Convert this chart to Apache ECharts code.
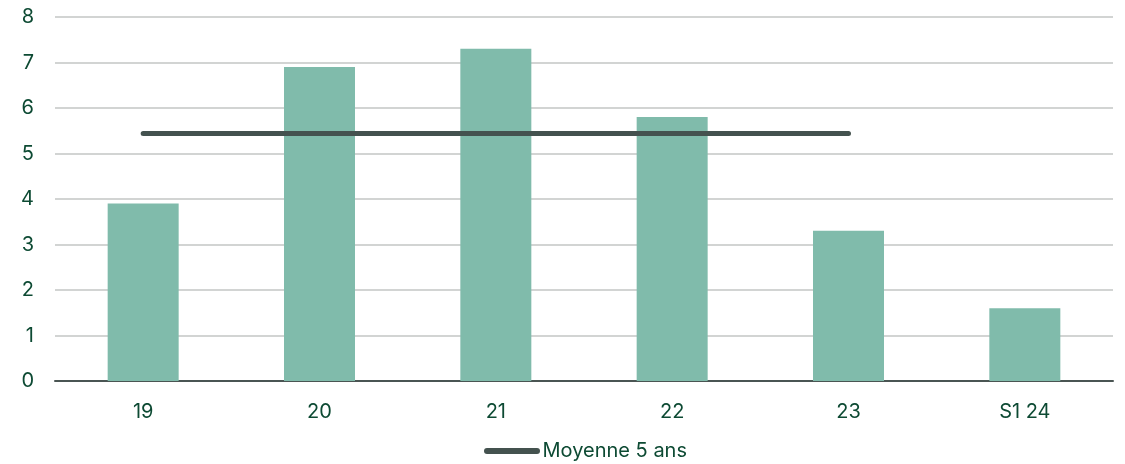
<!DOCTYPE html>
<html><head><meta charset="utf-8">
<script src="https://cdn.jsdelivr.net/npm/echarts@6/dist/echarts.min.js"></script>
<style>html,body{margin:0;padding:0;background:#fff}#c{width:1125px;height:464px}</style>
</head><body><div id="c"></div>
<script>
const categories = ['19','20','21','22','23','S1 24'];
const barValues = [3.9, 6.9, 7.3, 5.8, 3.3, 1.6];
const averageValues = [5.44, 5.44, 5.44, 5.44, 5.44, null];
const averageName = 'Moyenne 5 ans';
const yTicks = [0,1,2,3,4,5,6,7,8];

const chart = echarts.init(document.getElementById('c'), null, {renderer:'canvas'});
const txt = '#0d4a33';
const ff = 'Inter';
chart.setOption({
  animation:false,
  textStyle:{fontFamily:ff},
  grid:{left:55,right:12,top:17,bottom:83,containLabel:false},
  legend:{
    top:441, left:484, padding:0,
    data:[{name:averageName, icon:'path://M3,0 H53 A3,3 0 0 1 53,6 H3 A3,3 0 0 1 3,0 Z'}],
    itemWidth:57, itemHeight:6, itemGap:10,
    textStyle:{color:txt,fontSize:20,fontFamily:ff,padding:[0,0,0,-3]}
  },
  xAxis:{type:'category',data:categories,
    axisLine:{lineStyle:{color:'#4a5553',width:2}},
    axisTick:{show:false},
    axisLabel:{color:txt,fontSize:20,margin:21,fontFamily:ff}},
  yAxis:{type:'value',min:yTicks[0],max:yTicks[yTicks.length-1],interval:1,
    axisLine:{show:false},axisTick:{show:false},
    splitLine:{lineStyle:{color:'#c3c6c5',width:1.5}},
    axisLabel:{color:txt,fontSize:20,margin:21,fontFamily:ff}},
  series:[
    {type:'bar',data:barValues,barWidth:71,itemStyle:{color:'#80bbab'},z:2},
    {type:'line',name:averageName,data:averageValues,symbol:'none',
      lineStyle:{color:'#44524f',width:5,cap:'round'},itemStyle:{color:'#44524f'},z:3}
  ]
});
</script></body></html>
